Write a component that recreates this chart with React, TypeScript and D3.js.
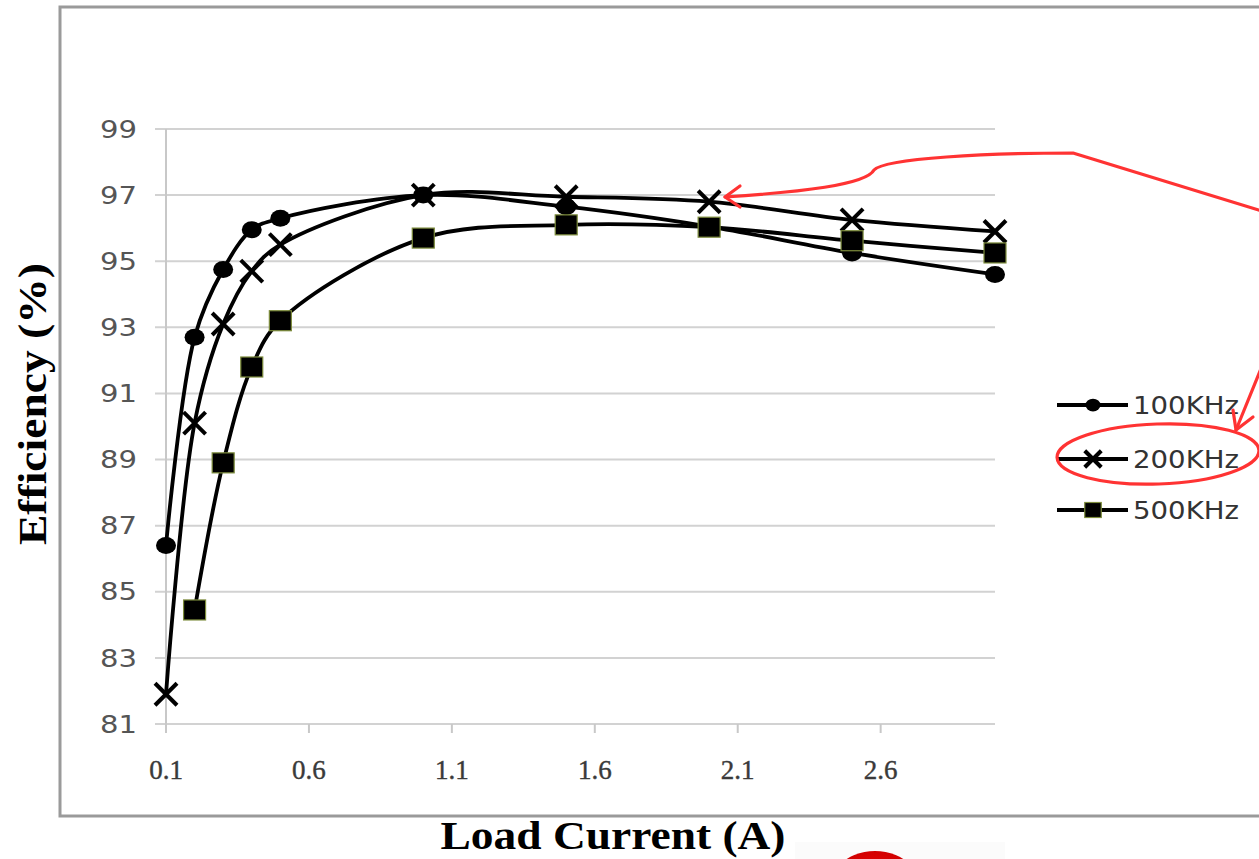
import React from "react";
import * as d3 from "d3";

const loadCurrent = [0.1, 0.2, 0.3, 0.4, 0.5, 1.0, 1.5, 2.0, 2.5, 3.0];
const eff100 = [86.4, 92.7, 94.75, 95.95, 96.3, 97.0, 96.65, 96.05, 95.25, 94.6];
const eff200 = [81.9, 90.1, 93.1, 94.7, 95.5, 97.0, 96.95, 96.8, 96.25, 95.9];
const eff500 = [null, 84.45, 88.9, 91.8, 93.2, 95.7, 96.1, 96.03, 95.62, 95.25];
const seriesNames = ["100KHz", "200KHz", "500KHz"];
const xTicks = [0.1, 0.6, 1.1, 1.6, 2.1, 2.6];
const yTicks = [81, 83, 85, 87, 89, 91, 93, 95, 97, 99];

const W = 1259;
const H = 859;
const SANS = "'DejaVu Sans', Verdana, sans-serif";
const SERIF = "'Liberation Serif', 'Times New Roman', serif";

export default function App() {
  const x = d3.scaleLinear().domain([0.1, 3.0]).range([166, 995]);
  const y = d3.scaleLinear().domain([81, 99]).range([724, 129]);

  const allSeries = [eff100, eff200, eff500].map((vals, i) => ({
    name: seriesNames[i],
    kind: i,
    pts: loadCurrent
      .map((c, j) => ({ c, v: vals[j] }))
      .filter((p) => p.v !== null) as { c: number; v: number }[],
  }));

  const line = d3
    .line<{ c: number; v: number }>()
    .x((d) => x(d.c))
    .y((d) => y(d.v))
    .curve(d3.curveCatmullRom.alpha(0.5));

  const marker = (kind: number, cx: number, cy: number, key: string, s = 1) => {
    if (kind === 0)
      return <ellipse key={key} cx={cx} cy={cy} rx={10 * s} ry={8.5 * s} fill="#000" />;
    if (kind === 1) {
      const a = 11 * s;
      return (
        <g key={key} stroke="#000" strokeWidth={4} strokeLinecap="butt">
          <line x1={cx - a} y1={cy - a} x2={cx + a} y2={cy + a} />
          <line x1={cx - a} y1={cy + a} x2={cx + a} y2={cy - a} />
        </g>
      );
    }
    return (
      <rect
        key={key}
        x={cx - 11 * s}
        y={cy - 10 * s}
        width={22 * s}
        height={20 * s}
        fill="#000"
        stroke="#7d8c3c"
        strokeWidth={1.2}
      />
    );
  };

  const legendY = [405, 459, 510];

  return (
    <svg
      width={W}
      height={H}
      style={{ position: "absolute", left: 0, top: 0, background: "#fff" }}
    >
      <defs>
        <radialGradient id="redBlob" cx="50%" cy="40%" r="60%">
          <stop offset="0%" stopColor="#ff1010" />
          <stop offset="70%" stopColor="#d00000" />
          <stop offset="100%" stopColor="#8a0000" />
        </radialGradient>
      </defs>
      {/* frame */}
      <rect x={60} y={7} width={1260} height={809} fill="#fff" stroke="#9a9a9a" strokeWidth={3} />

      {/* gridlines */}
      {yTicks.map((t) => (
        <line key={"g" + t} x1={155} x2={995} y1={y(t)} y2={y(t)} stroke="#d2d2d2" strokeWidth={2} />
      ))}
      {/* y axis */}
      <line x1={166} x2={166} y1={129} y2={732} stroke="#c8c8c8" strokeWidth={2} />
      {/* x axis ticks */}
      {xTicks.map((t) => (
        <line key={"xt" + t} x1={x(t)} x2={x(t)} y1={724} y2={733} stroke="#c8c8c8" strokeWidth={2} />
      ))}
      {/* y tick labels */}
      {yTicks.map((t) => (
        <text
          key={"yl" + t}
          x={137}
          y={y(t)}
          dy="0.36em"
          textAnchor="end"
          fontFamily={SANS}
          fontSize={24}
          textLength={37}
          lengthAdjust="spacingAndGlyphs"
          fill="#555"
        >
          {t}
        </text>
      ))}
      {/* x tick labels */}
      {xTicks.map((t) => (
        <text
          key={"xl" + t}
          x={x(t)}
          y={770}
          dy="0.35em"
          textAnchor="middle"
          fontFamily={SERIF}
          fontSize={27}
          fill="#3a3a3a"
          stroke="#3a3a3a"
          strokeWidth={0.4}
        >
          {t.toFixed(1)}
        </text>
      ))}

      {/* series */}
      {allSeries.map((s) => (
        <g key={s.name}>
          <path d={line(s.pts) || ""} fill="none" stroke="#000" strokeWidth={3.8} />
          {s.pts.map((p, j) => marker(s.kind, x(p.c), y(p.v), s.name + j))}
        </g>
      ))}

      {/* legend */}
      {seriesNames.map((n, i) => (
        <g key={"lg" + n}>
          <line x1={1057} x2={1128} y1={legendY[i]} y2={legendY[i]} stroke="#000" strokeWidth={4} />
          {marker(i, 1093, legendY[i], "lm" + i, 0.75)}
          <text
            x={1133}
            y={legendY[i]}
            dy="0.36em"
            fontFamily={SANS}
            fontSize={24}
            textLength={106}
            lengthAdjust="spacingAndGlyphs"
            fill="#333"
          >
            {n}
          </text>
        </g>
      ))}

      {/* axis titles */}
      <text
        x={613}
        y={849}
        textAnchor="middle"
        fontFamily={SERIF}
        fontWeight="bold"
        fontSize={41}
        textLength={345}
        lengthAdjust="spacingAndGlyphs"
        fill="#000"
      >
        Load Current (A)
      </text>
      <text
        transform="translate(46,404) rotate(-90)"
        textAnchor="middle"
        fontFamily={SERIF}
        fontWeight="bold"
        fontSize={40}
        textLength={282}
        lengthAdjust="spacingAndGlyphs"
        fill="#000"
      >
        Efficiency (%)
      </text>

      {/* red annotations */}
      <g fill="none" stroke="#ff3333" strokeWidth={3.2} strokeLinecap="round" strokeLinejoin="round">
        <path d="M 1262 211 L 1073 153 C 990 153 885 158 874 170 C 866 185 800 192 725 197" />
        <path d="M 740 186 L 725 197 L 740 207" />
        <path d="M 1262 366 L 1236 430" />
        <path d="M 1233 410 L 1236 430 L 1253 417" />
        <ellipse cx={1158} cy={454} rx={101} ry={30} transform="rotate(-2 1158 454)" />
      </g>

      {/* bottom red blob */}
      <rect x={795} y={842} width={210} height={17} fill="#fbfbfb" />
      <ellipse cx={875} cy={905} rx={54} ry={54} fill="url(#redBlob)" />
    </svg>
  );
}
